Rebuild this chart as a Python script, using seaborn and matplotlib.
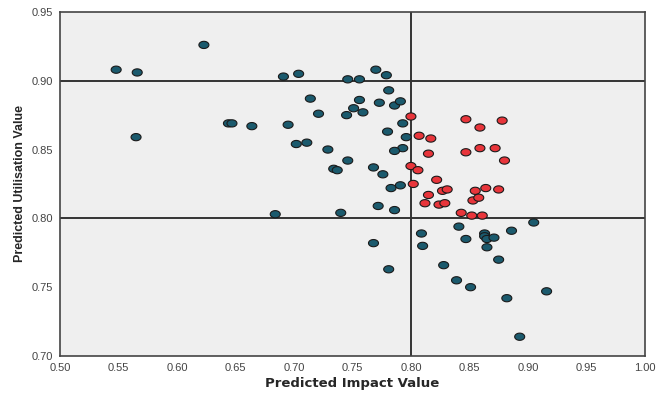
import matplotlib
matplotlib.use("Agg")
import matplotlib.pyplot as plt
from matplotlib.path import Path
import numpy as np
import pandas as pd
import seaborn as sns

# points outside the high-impact / high-utilisation quadrant
blue_x = [0.548, 0.566, 0.623, 0.565, 0.644, 0.647, 0.664, 0.691, 0.704, 0.695,
          0.702, 0.711, 0.714, 0.721, 0.729, 0.746, 0.756, 0.770, 0.779, 0.781,
          0.756, 0.773, 0.786, 0.791, 0.751, 0.745, 0.759, 0.793, 0.780, 0.796,
          0.793, 0.786, 0.746, 0.734, 0.737, 0.768, 0.776, 0.783, 0.791, 0.740,
          0.772, 0.786, 0.684, 0.809, 0.810, 0.768, 0.781, 0.841, 0.905, 0.847,
          0.863, 0.863, 0.865, 0.871, 0.886, 0.865, 0.875, 0.828, 0.839, 0.851,
          0.916, 0.882, 0.893]
blue_y = [0.908, 0.906, 0.926, 0.859, 0.869, 0.869, 0.867, 0.903, 0.905, 0.868,
          0.854, 0.855, 0.887, 0.876, 0.850, 0.901, 0.901, 0.908, 0.904, 0.893,
          0.886, 0.884, 0.882, 0.885, 0.880, 0.875, 0.877, 0.869, 0.863, 0.859,
          0.851, 0.849, 0.842, 0.836, 0.835, 0.837, 0.832, 0.822, 0.824, 0.804,
          0.809, 0.806, 0.803, 0.789, 0.780, 0.782, 0.763, 0.794, 0.797, 0.785,
          0.789, 0.787, 0.785, 0.786, 0.791, 0.779, 0.770, 0.766, 0.755, 0.750,
          0.747, 0.742, 0.714]

# points inside the quadrant
red_x = [0.800, 0.807, 0.817, 0.815, 0.800, 0.806, 0.822, 0.802, 0.827, 0.831,
         0.815, 0.812, 0.824, 0.829, 0.843, 0.852, 0.861, 0.847, 0.859, 0.878,
         0.847, 0.859, 0.872, 0.880, 0.864, 0.855, 0.875, 0.853, 0.858]
red_y = [0.874, 0.860, 0.858, 0.847, 0.838, 0.835, 0.828, 0.825, 0.820, 0.821,
         0.817, 0.811, 0.810, 0.811, 0.804, 0.802, 0.802, 0.872, 0.866, 0.871,
         0.848, 0.851, 0.851, 0.842, 0.822, 0.820, 0.821, 0.813, 0.815]

x_ticks = [0.50, 0.55, 0.60, 0.65, 0.70, 0.75, 0.80, 0.85, 0.90, 0.95, 1.00]
y_ticks = [0.70, 0.75, 0.80, 0.85, 0.90, 0.95]

df = pd.DataFrame({
    "impact": blue_x + red_x,
    "utilisation": blue_y + red_y,
    "group": ["other"] * len(blue_x) + ["quadrant"] * len(red_x),
})

sns.set_style("white")
plt.rcParams["font.family"] = ["Liberation Sans", "DejaVu Sans"]

# slightly flattened dots, like the original export
t = np.linspace(0, 2 * np.pi, 40)
ellipse = Path(np.column_stack([np.cos(t), 0.72 * np.sin(t)]), closed=True)

fig = plt.figure(figsize=(6.56, 3.96), dpi=100)
ax = fig.add_axes([0.0915, 0.101, 0.8915, 0.869])
ax.set_facecolor("#efefef")

# reference lines
ax.axhline(0.90, color="#333333", lw=1.4, zorder=1)
ax.axhline(0.80, color="#333333", lw=1.4, zorder=1)
ax.axvline(0.80, color="#333333", lw=1.4, zorder=1)

sns.scatterplot(data=df, x="impact", y="utilisation", hue="group",
                palette={"other": "#1b5a6d", "quadrant": "#e8353b"},
                marker=ellipse, s=52, edgecolor="#1a1a1a", linewidth=0.8,
                legend=False, ax=ax, zorder=3)

ax.set_xlim(0.5, 1.0)
ax.set_ylim(0.70, 0.95)
ax.set_xticks(x_ticks)
ax.set_yticks(y_ticks)
ax.set_xticklabels([f"{v:.2f}" for v in x_ticks])
ax.set_yticklabels([f"{v:.2f}" for v in y_ticks])
ax.tick_params(axis="both", direction="out", length=4, width=1, color="#333333",
               labelsize=8, labelcolor="#444444", pad=1)

for side in ["top", "right", "left", "bottom"]:
    ax.spines[side].set_color("#444444")
    ax.spines[side].set_linewidth(1.2)

ax.set_xlabel("Predicted Impact Value", fontsize=9.5, fontweight="bold",
              family=["DejaVu Sans"], labelpad=3)
ax.set_ylabel("Predicted Utilisation Value", fontsize=9, fontweight="bold", labelpad=4)

plt.savefig("out.png", dpi=100)
plt.close()
